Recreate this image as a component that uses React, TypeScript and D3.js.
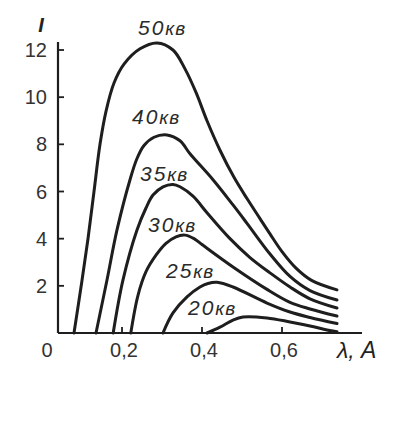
import React from "react";
import * as d3 from "d3";

const xTicks = [0.2, 0.4, 0.6];
const xTickLabels = ["0,2", "0,4", "0,6"];
const yTicks = [2, 4, 6, 8, 10, 12];

const s50: [number, number][] = [
  [0.08, 0], [0.098, 2], [0.115, 4], [0.13, 6], [0.145, 8], [0.16, 9.4], [0.18, 10.6],
  [0.205, 11.4], [0.245, 12.05], [0.2875, 12.3], [0.3275, 12.0], [0.3575, 11.2],
  [0.385, 10.2], [0.4125, 9.0], [0.445, 7.75], [0.48, 6.6], [0.5125, 5.7], [0.545, 4.85],
  [0.57, 4.2], [0.6, 3.45], [0.635, 2.75], [0.675, 2.22], [0.7375, 1.83],
];
const s40: [number, number][] = [
  [0.135, 0], [0.1625, 2.25], [0.1875, 4.37], [0.22, 6.5], [0.2375, 7.4], [0.255, 7.95],
  [0.28, 8.3], [0.3125, 8.4], [0.345, 8.15], [0.37, 7.6], [0.4275, 6.5], [0.4775, 5.43],
  [0.5125, 4.65], [0.57, 3.35], [0.62, 2.4], [0.67, 1.8], [0.7375, 1.4],
];
const s35: [number, number][] = [
  [0.178, 0], [0.2025, 2.25], [0.2375, 4.37], [0.26, 5.3], [0.2775, 5.85], [0.3025, 6.2],
  [0.3275, 6.3], [0.345, 6.2], [0.3775, 5.8], [0.4125, 5.1], [0.47, 4.0], [0.52, 3.2],
  [0.57, 2.55], [0.62, 1.95], [0.67, 1.45], [0.7375, 1.06],
];
const s30: [number, number][] = [
  [0.222, 0], [0.24, 1.6], [0.26, 2.6], [0.285, 3.3], [0.31, 3.8], [0.335, 4.08],
  [0.3575, 4.15], [0.38, 4.0], [0.4, 3.75], [0.4775, 2.8], [0.5625, 1.85], [0.62, 1.3],
  [0.67, 1.02], [0.7375, 0.72],
];
const s25: [number, number][] = [
  [0.3025, 0], [0.3275, 0.85], [0.3625, 1.53], [0.395, 1.95], [0.415, 2.1], [0.4375, 2.15],
  [0.4775, 1.95], [0.5625, 1.27], [0.62, 0.89], [0.67, 0.66], [0.7375, 0.4],
];
const s20: [number, number][] = [
  [0.4125, 0], [0.445, 0.25], [0.4775, 0.55], [0.5025, 0.68], [0.5625, 0.64],
  [0.62, 0.47], [0.67, 0.3], [0.7125, 0.13], [0.7375, 0.05],
];

const seriesNames = ["50", "40", "35", "30", "25", "20"];
const seriesData = [s50, s40, s35, s30, s25, s20];
const labelPos: [number, number][] = [
  [0.24, 12.65], [0.225, 8.85], [0.245, 6.45], [0.265, 4.3], [0.31, 2.35], [0.365, 0.78],
];

export default function App() {
  const W = 416, H = 442;
  const x = d3.scaleLinear().domain([0, 0.8]).range([42, 362]);
  const y = d3.scaleLinear().domain([0, 12]).range([333, 50]);
  const line = d3
    .line<[number, number]>()
    .x((d) => x(d[0]))
    .y((d) => y(d[1]))
    .curve(d3.curveCatmullRom.alpha(0.5));
  const axisX = 58;
  const ink = "#1e1e1e";
  const font = "'Liberation Sans', Arial, sans-serif";
  return (
    <svg width={W} height={H} style={{ position: "absolute", left: 0, top: 0, background: "#fff" }}>
      <rect width={W} height={H} fill="#fff" />
      <line x1={axisX} x2={axisX} y1={42} y2={y(0)} stroke={ink} strokeWidth={2.2} />
      <line x1={axisX} x2={x(0.8)} y1={y(0)} y2={y(0)} stroke={ink} strokeWidth={2.2} />
      {yTicks.map((t) => (
        <g key={t}>
          <line x1={axisX} x2={axisX + 6} y1={y(t)} y2={y(t)} stroke={ink} strokeWidth={1.8} />
          <text x={47} y={y(t) + 7} textAnchor="end" fontFamily={font} fontSize={20} fill="#333">
            {t}
          </text>
        </g>
      ))}
      {xTicks.map((t, i) => (
        <g key={t}>
          <line x1={x(t)} x2={x(t)} y1={y(0)} y2={y(0) - 6} stroke={ink} strokeWidth={1.8} />
          <text x={x(t) + 2} y={357} textAnchor="middle" fontFamily={font} fontSize={20} fill="#333">
            {xTickLabels[i]}
          </text>
        </g>
      ))}
      <text x={47} y={357} textAnchor="middle" fontFamily={font} fontSize={20} fill="#333">0</text>
      <text x={337} y={358} fontFamily={font} fontSize={23} fontStyle="italic" fill="#222">λ, A</text>
      <text x={41} y={32} textAnchor="middle" fontFamily={font} fontSize={20} fontStyle="italic"
        fontWeight="bold" fill="#222">I</text>
      {seriesData.map((s, i) => (
        <path key={i} d={line(s) || ""} fill="none" stroke={ink} strokeWidth={3} strokeLinejoin="round" strokeLinecap="round" />
      ))}
      {seriesNames.map((n, i) => (
        <text key={n} x={x(labelPos[i][0])} y={y(labelPos[i][1])} fontFamily={font} fontSize={21}
          fontStyle="italic" fill="#2a2a2a" letterSpacing={2}>
          {n}
          <tspan fontSize={19} letterSpacing={1}>кв</tspan>
        </text>
      ))}
    </svg>
  );
}
